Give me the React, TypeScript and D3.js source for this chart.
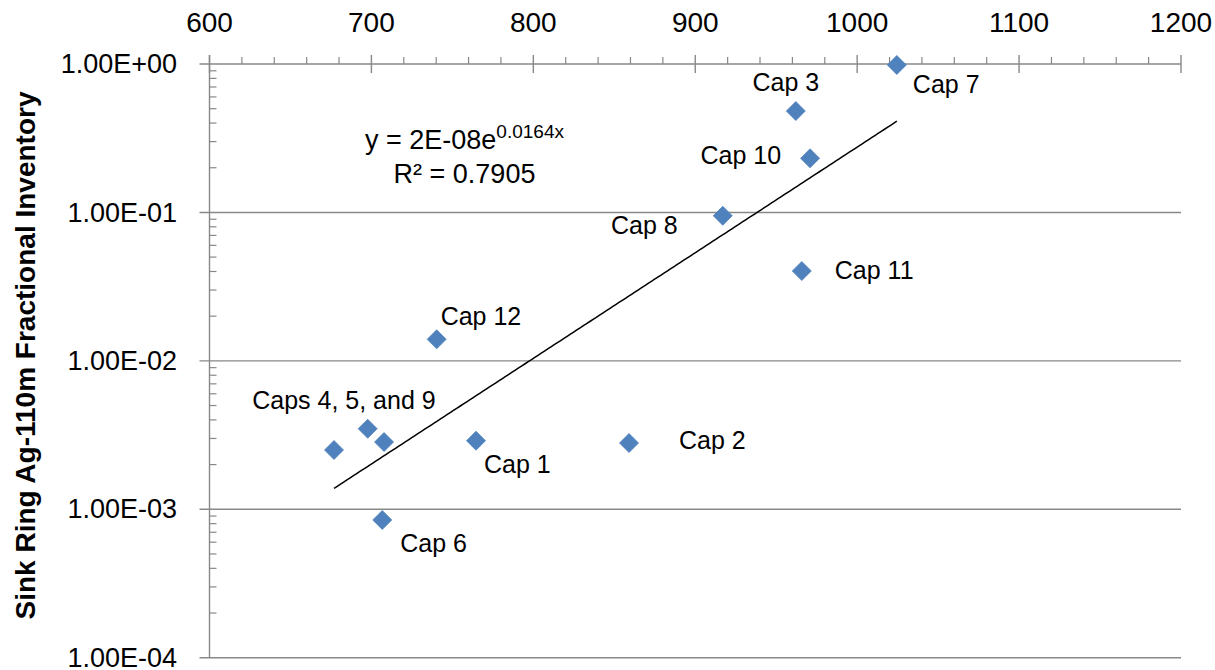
import React from 'react';
import * as d3 from 'd3';

// ---- data ----
const capNames = ['Cap 7', 'Cap 3', 'Cap 10', 'Cap 8', 'Cap 11', 'Cap 12', 'Cap 4', 'Cap 5', 'Cap 9', 'Cap 1', 'Cap 2', 'Cap 6'];
const temperature = [1024.5, 962.1, 970.9, 917.0, 965.8, 740.3, 676.9, 697.7, 707.8, 764.6, 859.1, 706.7];
const inventory = [0.985, 0.482, 0.2315, 0.095, 0.0403, 0.01397, 0.002508, 0.00349, 0.002839, 0.002897, 0.002795, 0.000847];
const pointLabels = ['Cap 7', 'Cap 3', 'Cap 10', 'Cap 8', 'Cap 11', 'Cap 12', '', 'Caps 4, 5, and 9', '', 'Cap 1', 'Cap 2', 'Cap 6'];

const xTicks = [600, 700, 800, 900, 1000, 1100, 1200];
const yTicks = [1, 0.1, 0.01, 0.001, 0.0001];
const yTickLabels = ['1.00E+00', '1.00E-01', '1.00E-02', '1.00E-03', '1.00E-04'];
const yTitle = 'Sink Ring Ag-110m Fractional Inventory';
const eqMain = 'y = 2E-08e';
const eqExp = '0.0164x';
const eqR2 = 'R² = 0.7905';

// ---- layout / style (not data) ----
const W = 1215;
const H = 670;
const LEFT = 209.5;
const RIGHT = 1181;
const TOP = 64;
const BOTTOM = 657.7;
const AXIS = '#888888';
const BLUE = '#4F81BD';
const FONT = '"Liberation Sans", Arial, sans-serif';

// label offsets relative to marker (dx, dy to baseline, anchor)
const labelOffsets: Array<[number, number, string]> = [
  [16, 28, 'start'],
  [-10, -20, 'middle'],
  [-29, 6, 'end'],
  [-45, 18, 'end'],
  [33, 8, 'start'],
  [4, -14, 'start'],
  [0, 0, 'start'],
  [68, -20, 'end'],
  [0, 0, 'start'],
  [8, 32, 'start'],
  [50, 6, 'start'],
  [18, 32, 'start'],
];

function fitExp(xs: number[], ys: number[]) {
  const ly = ys.map((v) => Math.log(v));
  const mx = d3.mean(xs) as number;
  const my = d3.mean(ly) as number;
  let sxy = 0, sxx = 0;
  xs.forEach((x, i) => {
    sxy += (x - mx) * (ly[i] - my);
    sxx += (x - mx) * (x - mx);
  });
  const b = sxy / sxx;
  const a = Math.exp(my - b * mx);
  return { a, b };
}

export default function App() {
  const x = d3.scaleLinear().domain([600, 1200]).range([LEFT, RIGHT]);
  const y = d3.scaleLog().domain([0.0001, 1]).range([BOTTOM, TOP]);

  const xMinor = d3.range(600, 1200, 20).filter((v) => v % 100 !== 0);
  const yMinor: number[] = [];
  [-4, -3, -2, -1].forEach((k) => {
    for (let m = 2; m <= 9; m++) yMinor.push(m * Math.pow(10, k));
  });

  const fit = fitExp(temperature, inventory);
  const xMin = d3.min(temperature) as number;
  const xMax = d3.max(temperature) as number;
  const trendX = d3.range(xMin, xMax, 2).concat([xMax]);
  const trendLine = d3
    .line<number>()
    .x((d) => x(d))
    .y((d) => y(fit.a * Math.exp(fit.b * d)));

  const r = 9.5;

  return (
    <svg width={W} height={H} style={{ position: 'absolute', left: 0, top: 0, background: '#fff' }} fontFamily={FONT}>
      {/* gridlines */}
      {yTicks.map((t) => (
        <line key={'g' + t} x1={LEFT - 10} x2={RIGHT} y1={y(t)} y2={y(t)} stroke={AXIS} strokeWidth={1.4} />
      ))}
      {/* y axis line */}
      <line x1={LEFT} x2={LEFT} y1={TOP - 9} y2={BOTTOM} stroke={AXIS} strokeWidth={1.4} />
      {/* y minor ticks */}
      {yMinor.map((t) => (
        <line key={'ym' + t} x1={LEFT} x2={LEFT + 7} y1={y(t)} y2={y(t)} stroke={AXIS} strokeWidth={1.2} />
      ))}
      {/* x major ticks */}
      {xTicks.map((t) => (
        <line key={'xt' + t} x1={x(t)} x2={x(t)} y1={TOP - 9} y2={TOP + 9} stroke={AXIS} strokeWidth={1.4} />
      ))}
      {xMinor.map((t) => (
        <line key={'xm' + t} x1={x(t)} x2={x(t)} y1={TOP - 7} y2={TOP} stroke={AXIS} strokeWidth={1.2} />
      ))}
      {/* x tick labels (top) */}
      {xTicks.map((t) => (
        <text key={'xl' + t} x={x(t)} y={31.5} textAnchor="middle" fontSize={28} fill="#000">
          {t}
        </text>
      ))}
      {/* y tick labels */}
      {yTicks.map((t, i) => (
        <text key={'yl' + t} x={177} y={y(t)} dy="0.34em" textAnchor="end" fontSize={27} fill="#000">
          {yTickLabels[i]}
        </text>
      ))}
      {/* y title */}
      <text
        transform={`translate(34.5, 355.5) rotate(-90)`}
        textAnchor="middle"
        fontSize={28}
        fontWeight="bold"
        fill="#000"
      >
        {yTitle}
      </text>
      {/* trendline */}
      <path d={trendLine(trendX) || ''} fill="none" stroke="#000" strokeWidth={1.5} />
      {/* markers */}
      {temperature.map((t, i) => {
        const cx = x(t);
        const cy = y(inventory[i]);
        return (
          <path
            key={'m' + capNames[i]}
            d={`M${cx},${cy - r}L${cx + r},${cy}L${cx},${cy + r}L${cx - r},${cy}Z`}
            fill={BLUE}
            stroke={BLUE}
            strokeWidth={0.8}
          />
        );
      })}
      {/* labels */}
      {temperature.map((t, i) =>
        pointLabels[i] ? (
          <text
            key={'lab' + i}
            x={x(t) + labelOffsets[i][0]}
            y={y(inventory[i]) + labelOffsets[i][1]}
            textAnchor={labelOffsets[i][2] as any}
            fontSize={25}
            fill="#000"
          >
            {pointLabels[i]}
          </text>
        ) : null
      )}
      {/* equation */}
      <text x={464.5} y={149} textAnchor="middle" fontSize={27} fill="#000">
        {eqMain}
        <tspan fontSize={19} dy={-11}>{eqExp}</tspan>
      </text>
      <text x={464.5} y={183} textAnchor="middle" fontSize={27} fill="#000">
        {eqR2}
      </text>
    </svg>
  );
}
